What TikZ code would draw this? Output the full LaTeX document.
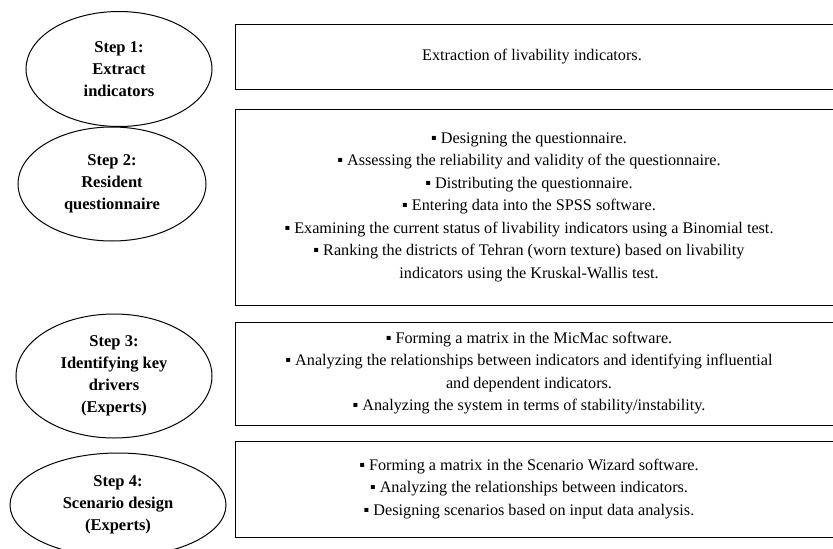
\documentclass[tikz,border=0pt]{standalone}
\usepackage{fontspec}
\setmainfont{Liberation Serif}
\usetikzlibrary{shapes.geometric}
\tikzset{
  stepell/.style={draw, line width=1pt, ellipse, inner sep=0pt, align=center,
    font=\fontsize{16.5}{22}\selectfont\bfseries},
  boxframe/.style={draw, line width=1.4pt, rectangle, inner sep=0pt, anchor=north west},
  boxtext/.style={align=center, inner sep=0pt, font=\fontsize{16.2}{22.5}\selectfont}
}
\newcommand{\bul}{▪ }
\begin{document}
\begin{tikzpicture}[x=1pt,y=-1pt]
\useasboundingbox (0,0) rectangle (833,549);
% ellipses
\node[stepell, minimum width=186pt, minimum height=115pt] (e1) at (119,69) {Step 1:\\Extract\\indicators};
\node[stepell, minimum width=188pt, minimum height=114pt] (e2) at (112,184) {Step 2:\\Resident\\questionnaire};
\node[stepell, minimum width=196pt, minimum height=124pt] (e3) at (114,376) {Step 3:\\Identifying key\\drivers\\(Experts)};
\node[stepell, minimum width=216pt, minimum height=104pt] (e4) at (118,505) {Step 4:\\Scenario design\\(Experts)};
% boxes
\node[boxframe, minimum width=605pt, minimum height=65pt] (b1) at (235,24) {};
\node[boxframe, minimum width=605pt, minimum height=196pt] (b2) at (235,109) {};
\node[boxframe, minimum width=605pt, minimum height=103pt] (b3) at (235,322) {};
\node[boxframe, minimum width=605pt, minimum height=96pt] (b4) at (235,441) {};
% texts
\node[boxtext] (t1) at (532,56.5) {Extraction of livability indicators.};
\node[boxtext] (t2) at (529,207) {\bul Designing the questionnaire.\\
\bul Assessing the reliability and validity of the questionnaire.\\
\bul Distributing the questionnaire.\\
\bul Entering data into the SPSS software.\\
\bul Examining the current status of livability indicators using a Binomial test.\\
\bul Ranking the districts of Tehran (worn texture) based on livability\\
indicators using the Kruskal-Wallis test.};
\node[boxtext] (t3) at (529,373) {\bul Forming a matrix in the MicMac software.\\
\bul Analyzing the relationships between indicators and identifying influential\\
and dependent indicators.\\
\bul Analyzing the system in terms of stability/instability.};
\node[boxtext] (t4) at (529,489) {\bul Forming a matrix in the Scenario Wizard software.\\
\bul Analyzing the relationships between indicators.\\
\bul Designing scenarios based on input data analysis.};
\end{tikzpicture}
\end{document}
